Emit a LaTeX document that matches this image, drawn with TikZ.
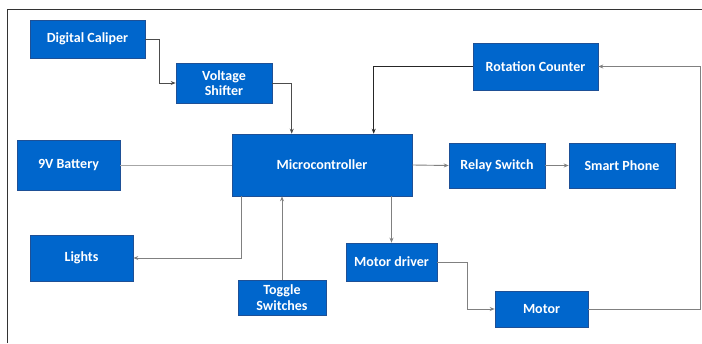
\documentclass[tikz,border=0pt]{standalone}
\usepackage{fontspec}
\setmainfont{Carlito}
\usetikzlibrary{arrows.meta}
\definecolor{boxblue}{RGB}{0,102,204}
\definecolor{boxedge}{RGB}{30,80,150}
\definecolor{wiregray}{RGB}{128,128,128}
\tikzset{
    block/.style={fill=boxblue, draw=boxedge, line width=0.6pt, text=white,
        inner sep=0pt, align=center, font=\fontsize{14}{15.5}\selectfont\bfseries},
    wire/.style={draw=wiregray, line width=0.9pt},
    feed/.style={wire, -{Stealth[length=5pt,width=4pt]}}
}
\begin{document}
\begin{tikzpicture}[x=1pt,y=-1pt]
        \useasboundingbox (0,0) rectangle (702,343);
        % outer frame (only top and left edges show)
        \draw[line width=1pt, black!80] (7,343) -- (7,9) -- (702,9);

        % blocks
        \node[block, minimum width=115, minimum height=38] (caliper) at (87.5,39) {Digital Caliper};
        \node[block, minimum width=96, minimum height=40] (shifter) at (224,83) {Voltage\\Shifter};
        \node[block, minimum width=103, minimum height=50] (battery) at (68.5,165) {9V Battery};
        \node[block, minimum width=180, minimum height=62] (mcu) at (322,165) {Microcontroller};
        \node[block, minimum width=125, minimum height=47] (counter) at (535.5,66.5) {Rotation Counter};
        \node[block, minimum width=96, minimum height=45] (relay) at (497,165.5) {Relay Switch};
        \node[block, minimum width=106, minimum height=45] (phone) at (622,165.5) {Smart Phone};
        \node[block, minimum width=103, minimum height=46] (lights) at (81.5,258) {Lights};
        \node[block, minimum width=88, minimum height=35] (toggle) at (282,297.5) {Toggle\\Switches};
        \node[block, minimum width=91, minimum height=38] (driver) at (391.5,262) {Motor driver};
        \node[block, minimum width=93, minimum height=36] (motor) at (541.5,309) {Motor};

        % connections into the microcontroller
        \draw[feed, draw=black!70] (caliper.east) -- ++(14,0) |- (shifter.west);
        \draw[feed, draw=black!70] (shifter.east) -| ([xshift=60pt]mcu.north west);
        \draw[feed, draw=black!85] (counter.west) -| ([xshift=142pt]mcu.north west);
        \draw[wire, draw=black!35] (battery.east) -- (mcu.west);
        \draw[feed] (toggle.north) -- (toggle.north |- mcu.south);

        % connections out of the microcontroller
        \draw[feed] ([xshift=10pt]mcu.south west) |- (lights.east);
        \draw[feed] (mcu.east) -- (relay.west);
        \draw[feed] (relay.east) -- (phone.west);
        \draw[feed] (mcu.south -| driver.north) -- (driver.north);
        \draw[feed] (driver.east) -- ++(30,0) |- (motor.west);

        % feedback from the motor
        \draw[feed] (motor.east) -- ++(112,0) |- (counter.east);
\end{tikzpicture}
\end{document}
